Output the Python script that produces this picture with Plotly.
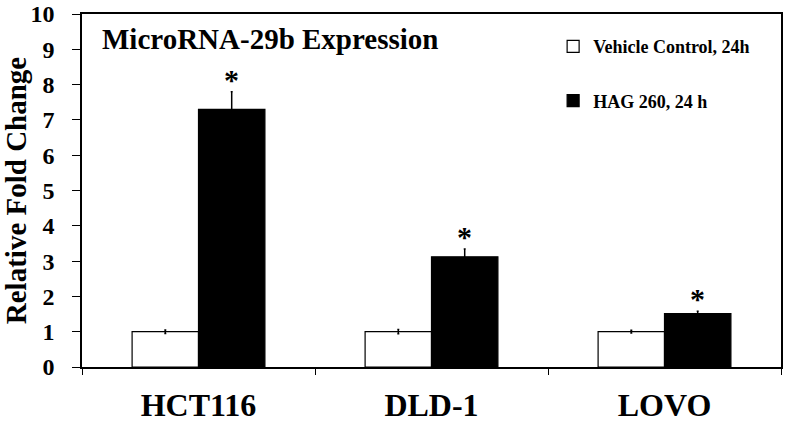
import plotly.graph_objects as go

categories = ["HCT116", "DLD-1", "LOVO"]
control_values = [1.0, 1.0, 1.0]
control_errors = [0.05, 0.06, 0.04]
hag_values = [7.3, 3.12, 1.51]
hag_errors = [0.5, 0.22, 0.07]
series_names = ["Vehicle Control, 24h", "HAG 260, 24 h"]
y_ticks = list(range(0, 11))

FONT = "Liberation Serif"

fig = go.Figure()
fig.add_trace(go.Bar(
    x=categories, y=control_values, name=series_names[0],
    marker=dict(color="white", line=dict(color="black", width=1.2)),
    error_y=dict(type="data", array=control_errors, color="black", thickness=1.5, width=1),
    legendgroup="a",
))
fig.add_trace(go.Bar(
    x=categories, y=hag_values, name=series_names[1],
    marker=dict(color="black", line=dict(color="black", width=1.2)),
    error_y=dict(type="data", array=hag_errors, color="black", thickness=1.5, width=1),
    legendgroup="b",
))

for i, c in enumerate(categories):
    fig.add_annotation(
        x=c, y=hag_values[i] + hag_errors[i], xref="x", yref="y",
        xshift=33, text="<b>*</b>", showarrow=False,
        yanchor="bottom", yshift=-6,
        font=dict(family=FONT, size=30, color="black"),
    )

fig.add_annotation(
    x=0.026, y=0.93, xref="paper", yref="paper", xanchor="left", yanchor="middle",
    text="<b>MicroRNA-29b Expression</b>", showarrow=False,
    font=dict(family=FONT, size=29, color="black"),
)

fig.update_layout(
    width=790, height=434,
    margin=dict(l=82, r=9, t=14, b=67, autoexpand=False),
    paper_bgcolor="white", plot_bgcolor="white",
    barmode="group", bargap=0.43, bargroupgap=0,
    font=dict(family=FONT, color="black"),
    showlegend=True,
    legend=dict(
        x=0.674, y=0.96, xanchor="left", yanchor="top",
        font=dict(family=FONT, size=18, color="black", weight="bold"),
        tracegroupgap=28, bgcolor="rgba(0,0,0,0)", itemwidth=30,
    ),
)
fig.update_xaxes(
    type="category", showline=True, linecolor="black", linewidth=1.5,
    mirror=True, ticks="outside", tickson="boundaries", ticklen=6,
    tickcolor="black", tickfont=dict(family=FONT, size=32, color="black", weight="bold"),
    ticklabelstandoff=9, showgrid=False, automargin=False,
)
fig.update_yaxes(
    range=[0, 10], tickvals=y_ticks, showline=True, linecolor="black", linewidth=1.5,
    mirror=True, ticks="outside", ticklen=8, tickcolor="black",
    tickfont=dict(family=FONT, size=24, color="black", weight="bold"),
    ticklabelstandoff=13, ticklabeloverflow="allow",
    showgrid=False, zeroline=False, automargin=False,
    title=dict(text="<b>Relative Fold Change</b>", font=dict(family=FONT, size=29, color="black"), standoff=4),
)

fig.write_html(
    "out.html",
    config={"displayModeBar": False},
    post_script="document.body.style.margin='0';",
)
